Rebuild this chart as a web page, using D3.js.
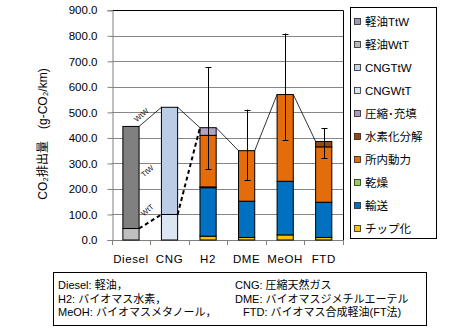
<!DOCTYPE html>
<html><head><meta charset="utf-8">
<script src="https://cdn.jsdelivr.net/npm/d3@7"></script>
<style>html,body{margin:0;padding:0;background:#fff}svg{display:block}</style>
</head><body><svg id="c" width="451" height="328"></svg>
<script>
const categories = ["Diesel","CNG","H2","DME","MeOH","FTD"];
// stack order bottom -> top
const seriesNames = ["チップ化","輸送","乾燥","所内動力","水素化分解","圧縮･充填","CNGWtT","CNGTtW","軽油WtT","軽油TtW"];
const chip      = [0,0,15,10,20,10];
const transport = [0,0,190,142,210,138];
const drying    = [0,0,3,0,0,0];
const plantPow  = [0,0,202,198,340,217];
const hydrocrack= [0,0,0,0,0,21];
const compress  = [0,0,30,0,0,0];
const cngWtT    = [0,100,0,0,0,0];
const cngTtW    = [0,420,0,0,0,0];
const dieselWtT = [45,0,0,0,0,0];
const dieselTtW = [400,0,0,0,0,0];
const errLow  = [null,null,277,234,390,320];
const errHigh = [null,null,678,511,809,437];
const yTicks = [0,100,200,300,400,500,600,700,800,900];
const colors = ["#ffc000","#0070c0","#92d050","#e46c0a","#984807","#b3a2c7","#dce6f2","#b9cde5","#c0c0c0","#808080"];
const legendSwatch = ["#ffc000","#0070c0","#92d050","#e46c0a","#984807","#a99bc0","#dde3ee","#c3d2e6","#b8b8b8","#9a99b0"];
const noteLines = [
  ["Diesel:  軽油，","CNG:  圧縮天然ガス"],
  ["H2: バイオマス水素，","DME: バイオマスジメチルエーテル"],
  ["MeOH: バイオマスメタノール，","FTD: バイオマス合成軽油(FT法)"]
];

const seriesVals = [chip,transport,drying,plantPow,hydrocrack,compress,cngWtT,cngTtW,dieselWtT,dieselTtW];
const table = categories.map((c,i)=>{const o={cat:c};seriesNames.forEach((s,k)=>o[s]=seriesVals[k][i]);return o;});
const stacked = d3.stack().keys(seriesNames)(table);

const svg = d3.select("#c");
const font = "'Liberation Sans','Noto Sans CJK JP',sans-serif";
svg.append("rect").attr("width",451).attr("height",328).attr("fill","#fff");

const L=111.7,R=343,T=10.3,B=240;
const y = d3.scaleLinear().domain([0,900]).range([B,T]);
const x = d3.scaleBand().domain(categories).range([L,R]).paddingInner(0.58).paddingOuter(0.29);
const step = x.step();

// grid
svg.append("g").selectAll("line").data(yTicks.filter(t=>t>0&&t<900)).join("line")
  .attr("x1",L).attr("x2",R).attr("y1",d=>Math.round(y(d))+0.5).attr("y2",d=>Math.round(y(d))+0.5)
  .attr("stroke","#868686").attr("stroke-width",1);
// frame top/right
svg.append("line").attr("x1",L).attr("x2",R).attr("y1",Math.round(T)+0.5).attr("y2",Math.round(T)+0.5).attr("stroke","#000");
svg.append("line").attr("x1",Math.round(R)+0.5).attr("x2",Math.round(R)+0.5).attr("y1",T).attr("y2",B).attr("stroke","#000");

// y axis
const ya = svg.append("g").attr("transform",`translate(${Math.round(L)+0.5},0)`)
  .call(d3.axisLeft(y).tickValues(yTicks).tickFormat(d3.format(".1f")).tickSize(5).tickPadding(10));
ya.select(".domain").attr("stroke","#808080");
ya.selectAll(".tick line").attr("stroke","#808080");
ya.selectAll("text").attr("font-family",font).attr("font-size",11.5).attr("fill","#000");

// x axis
svg.append("line").attr("x1",L).attr("x2",R).attr("y1",Math.round(B)+0.5).attr("y2",Math.round(B)+0.5).attr("stroke","#808080");
svg.append("g").selectAll("line").data(d3.range(categories.length+1)).join("line")
  .attr("x1",i=>Math.round(L+i*step)+0.5).attr("x2",i=>Math.round(L+i*step)+0.5)
  .attr("y1",B).attr("y2",B+5).attr("stroke","#808080");
svg.append("g").selectAll("text").data(categories).join("text")
  .attr("x",d=>x(d)+x.bandwidth()/2).attr("y",263).attr("text-anchor","middle")
  .attr("font-family",font).attr("font-size",11.5).attr("letter-spacing",0.6).text(d=>d);

// bars
svg.append("g").selectAll("g").data(stacked).join("g").attr("fill",(d,i)=>colors[i])
  .selectAll("rect").data(d=>d.filter(p=>p[1]-p[0]>0)).join("rect")
  .attr("x",d=>x(d.data.cat)).attr("width",x.bandwidth())
  .attr("y",d=>y(d[1])).attr("height",d=>y(d[0])-y(d[1]))
  .attr("stroke","#000").attr("stroke-width",1);

// totals & connecting lines
const totals = table.map(r=>d3.sum(seriesNames,s=>r[s]));
const solidPts = [];
categories.forEach((c,i)=>{solidPts.push([x(c),y(totals[i])]);solidPts.push([x(c)+x.bandwidth(),y(totals[i])]);});
const segs = [];
for(let i=0;i<categories.length-1;i++) segs.push([solidPts[2*i+1],solidPts[2*i+2]]);
svg.append("g").selectAll("line").data(segs).join("line")
  .attr("x1",d=>d[0][0]).attr("y1",d=>d[0][1]).attr("x2",d=>d[1][0]).attr("y2",d=>d[1][1])
  .attr("stroke","#000").attr("stroke-width",0.8);
// dashed WtT line
const wtt = [dieselWtT[0], cngWtT[1]];
const dashSegs = [
  [[x("Diesel")+x.bandwidth(),y(wtt[0])],[x("CNG"),y(wtt[1])]],
  [[x("CNG")+x.bandwidth(),y(wtt[1])],[x("H2"),y(totals[2])]]
];
svg.append("g").selectAll("line").data(dashSegs).join("line")
  .attr("x1",d=>d[0][0]).attr("y1",d=>d[0][1]).attr("x2",d=>d[1][0]).attr("y2",d=>d[1][1])
  .attr("stroke","#000").attr("stroke-width",2).attr("stroke-dasharray","4,3");

// annotations
const ann = [["WtW",143,117],["TtW",149,173],["WtT",149,212]];
svg.append("g").selectAll("text").data(ann).join("text")
  .attr("transform",d=>`translate(${d[1]},${d[2]}) rotate(-40)`).attr("text-anchor","middle")
  .attr("font-family",font).attr("font-size",7.5).attr("fill","#111").text(d=>d[0]);

// error bars
const eb = svg.append("g").attr("stroke","#000").attr("stroke-width",1);
categories.forEach((c,i)=>{
  if(errLow[i]==null) return;
  const cx = Math.round(x(c)+x.bandwidth()/2)+0.5;
  eb.append("line").attr("x1",cx).attr("x2",cx).attr("y1",y(errLow[i])).attr("y2",y(errHigh[i]));
  [errLow[i],errHigh[i]].forEach(v=>eb.append("line").attr("x1",cx-3).attr("x2",cx+3).attr("y1",Math.round(y(v))+0.5).attr("y2",Math.round(y(v))+0.5));
});

// y label
svg.append("text").attr("transform","translate(47,134) rotate(-90)").attr("text-anchor","middle")
  .attr("font-family",font).attr("font-size",12).text("CO₂排出量　(g-CO₂/km)");

// legend
const lg = svg.append("g");
lg.append("rect").attr("x",350.5).attr("y",7.5).attr("width",86).attr("height",231).attr("fill","#fff").attr("stroke","#000");
const legendOrder = d3.range(seriesNames.length).reverse();
legendOrder.forEach((k,j)=>{
  const yy = 22 + j*23.0;
  lg.append("rect").attr("x",354.5).attr("y",yy-3.5).attr("width",6).attr("height",6)
    .attr("fill",legendSwatch[k]).attr("stroke","#222").attr("stroke-width",0.8);
  lg.append("text").attr("x",365).attr("y",yy+4).attr("font-family",font).attr("font-size",11.5).text(seriesNames[k]);
});

// note box
const nb = svg.append("g");
nb.append("rect").attr("x",53.5).attr("y",272.5).attr("width",373).attr("height",53).attr("fill","#fff").attr("stroke","#000");
const colX = [[58,235],[58,235],[58,243]];
noteLines.forEach((ln,i)=>{
  ln.forEach((t,j)=>{
    nb.append("text").attr("x",colX[i][j]).attr("y",289+i*13.5).attr("font-family",font).attr("font-size",11).text(t);
  });
});
</script></body></html>
